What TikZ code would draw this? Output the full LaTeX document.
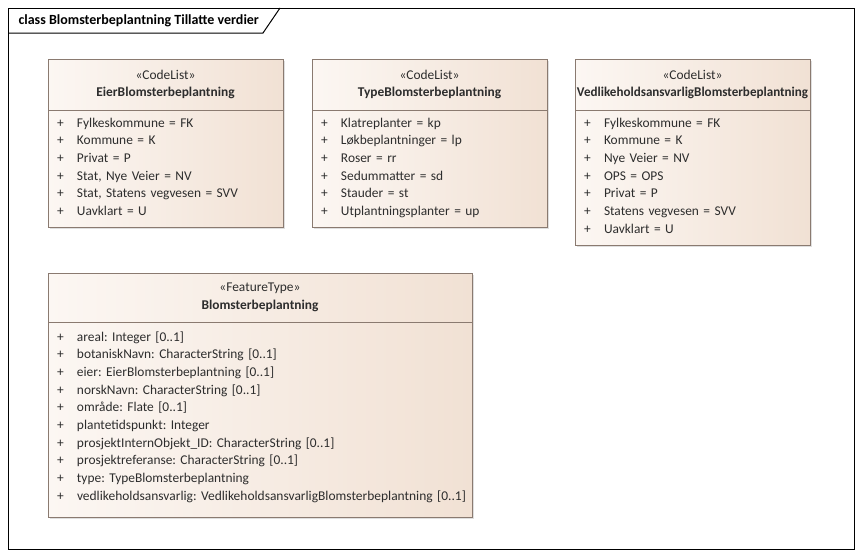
\documentclass[tikz,border=0pt]{standalone}
\usepackage{fontspec}
\setmainfont{Carlito}
\usepackage{graphicx}
\usepackage{tikz}
\usetikzlibrary{shapes, positioning, shadows}
\definecolor{clsleft}{RGB}{252,247,243}
\definecolor{clsright}{RGB}{241,225,212}
\definecolor{clsline}{RGB}{138,122,112}
\definecolor{clstext}{RGB}{45,45,45}
\newcommand{\umlfont}{\fontsize{13.4}{17.7}\selectfont\frenchspacing}
\tikzstyle{clshead} = [draw=clsline, left color=clsleft, right color=clsright,
    rectangle, anchor=north west, minimum width=235pt, minimum height=51pt,
    inner sep=0pt, outer sep=0pt, align=center, text=clstext, font=\umlfont,
    drop shadow={shadow xshift=2pt, shadow yshift=-2pt, opacity=0.25}]
\tikzstyle{clsbody} = [clshead, minimum height=0pt, align=left,
    inner xsep=9pt, inner ysep=0pt, text width=217pt, text height=17pt]
\tikzstyle{frame} = [draw, line width=1pt]
\newcommand{\attr}[1]{\makebox[20pt][l]{+}#1}

\begin{document}
\begin{tikzpicture}[x=1pt, y=-1pt, node distance=0pt]
    \useasboundingbox (0,0) rectangle (862,557);
    \draw [frame] (8,8) rectangle (854,549);
    \draw [frame] (8,33) -- (263,33) -- (280,8);
    \node [anchor=west, font=\fontsize{14}{17}\selectfont\bfseries] (title) at (15,20.5)
        {class Blomsterbeplantning Tillatte verdier};
    \node [clshead] (eier) at (48,59) {«CodeList»\\\textbf{EierBlomsterbeplantning}};
    \node [clsbody, below=of eier, text depth=100pt] (eierattr) {\attr{Fylkeskommune = FK}\\
        \attr{Kommune = K}\\\attr{Privat = P}\\\attr{Stat, Nye Veier = NV}\\
        \attr{Stat, Statens vegvesen = SVV}\\\attr{Uavklart = U}};
    \node [clshead] (type) at (312,59) {«CodeList»\\\textbf{TypeBlomsterbeplantning}};
    \node [clsbody, below=of type, text depth=100pt] (typeattr) {\attr{Klatreplanter = kp}\\
        \attr{Løkbeplantninger = lp}\\\attr{Roser = rr}\\\attr{Sedummatter = sd}\\
        \attr{Stauder = st}\\\attr{Utplantningsplanter = up}};
    \node [clshead] (vedl) at (575,59) {«CodeList»\\
        \resizebox{231pt}{\height}{\textbf{VedlikeholdsansvarligBlomsterbeplantning}}};
    \node [clsbody, below=of vedl, text depth=118pt] (vedlattr) {\attr{Fylkeskommune = FK}\\
        \attr{Kommune = K}\\\attr{Nye Veier = NV}\\\attr{OPS = OPS}\\\attr{Privat = P}\\
        \attr{Statens vegvesen = SVV}\\\attr{Uavklart = U}};
    \node [clshead, minimum width=424pt, minimum height=49pt] (blomst) at (48,273)
        {«FeatureType»\\\textbf{Blomsterbeplantning}};
    \node [clsbody, below=of blomst, text width=406pt, text height=19pt, text depth=176pt]
        (blomstattr) {\attr{areal: Integer [0..1]}\\
        \attr{botaniskNavn: CharacterString [0..1]}\\
        \attr{eier: EierBlomsterbeplantning [0..1]}\\
        \attr{norskNavn: CharacterString [0..1]}\\
        \attr{område: Flate [0..1]}\\
        \attr{plantetidspunkt: Integer}\\
        \attr{prosjektInternObjekt\_ID: CharacterString [0..1]}\\
        \attr{prosjektreferanse: CharacterString [0..1]}\\
        \attr{type: TypeBlomsterbeplantning}\\
        \attr{\resizebox{389pt}{\height}{vedlikeholdsansvarlig: VedlikeholdsansvarligBlomsterbeplantning [0..1]}}};
\end{tikzpicture}
\end{document}
